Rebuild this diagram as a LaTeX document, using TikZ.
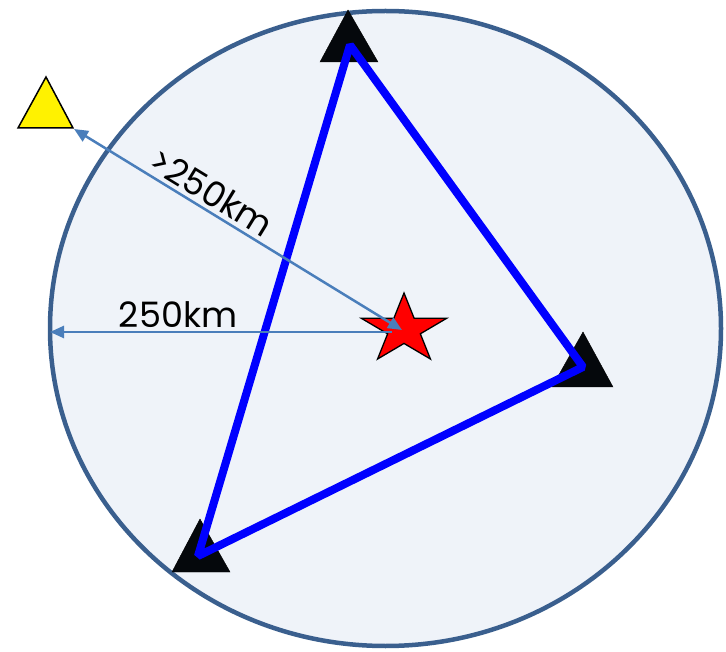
\documentclass[tikz,border=0pt]{standalone}
\usepackage{fontspec}
\setmainfont{Poppins}
\usetikzlibrary{arrows.meta}
\definecolor{ringc}{HTML}{3A5F8E}
\definecolor{fillc}{HTML}{EFF3F9}
\definecolor{arrc}{HTML}{4A7EBB}
\definecolor{stac}{HTML}{05080C}
\begin{document}
\begin{tikzpicture}[x=1pt,y=-1pt,
  station/.style={fill=stac},
  link/.style={blue, line width=8pt, line join=bevel},
  dimline/.style={arrc, line width=2.5pt},
  dimtip/.tip={Triangle[length=14pt,width=12pt]},
  lbl/.style={font=\fontsize{35}{42}\selectfont, inner sep=0pt}]
\useasboundingbox (0,0) rectangle (726,652);
% coverage circle
\coordinate (C) at (385.5,328.5);
\draw[ringc, line width=4.5pt, fill=fillc] (C) ellipse [x radius=335.5, y radius=317.5];
% stations
\draw[station] (320,62) -- (348,10) -- (378,62) -- cycle;
\draw[station] (552,387) -- (583,332) -- (613,387) -- cycle;
\draw[station] (172,572) -- (200,519) -- (230,572) -- cycle;
\coordinate (sA) at (350,45);
\coordinate (sB) at (583,367);
\coordinate (sC) at (198,556);
\draw[link] (sA) -- (sB) -- (sC) -- cycle;
% outside station
\draw[fill=yellow, line width=1.5pt] (18,128) -- (46,77) -- (73,128) -- cycle;
\coordinate (Y) at (74,129);
% epicentre star
\foreach \k in {0,...,4} {
  \coordinate (so\k) at ({404+45*cos(90+72*\k)},{329.5-36.5*sin(90+72*\k)});
  \coordinate (si\k) at ({404+0.382*45*cos(126+72*\k)},{329.5-0.382*36.5*sin(126+72*\k)});
}
\draw[fill=red, line width=1.3pt, line join=miter]
  (so0) -- (si0) -- (so1) -- (si1) -- (so2) -- (si2) -- (so3) -- (si3) -- (so4) -- (si4) -- cycle;
\coordinate (E) at (402,330);
% dimension arrows
\coordinate (H0) at (392,332);
\coordinate (L) at (50,332);
\draw[dimline, -dimtip] (H0) -- (L);
\draw[dimline, dimtip-dimtip] (Y) -- (E);
% labels
\node[lbl, anchor=base] (l1) at (178,328) {250km};
\node[lbl, anchor=base, rotate=-31.5] (l2) at (205,203) {>250km};
\end{tikzpicture}
\end{document}
